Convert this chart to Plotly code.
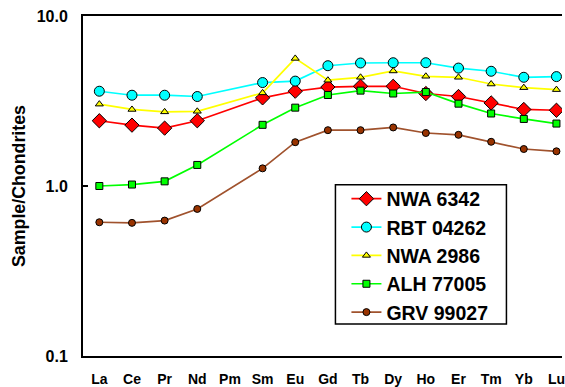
import plotly.graph_objects as go

elements = ["La", "Ce", "Pr", "Nd", "Pm", "Sm", "Eu", "Gd", "Tb", "Dy", "Ho", "Er", "Tm", "Yb", "Lu"]

nwa_6342 = [2.42, 2.28, 2.19, 2.42, None, 3.30, 3.61, 3.82, 3.86, 3.86, 3.50, 3.36, 3.08, 2.82, 2.79]
rbt_04262 = [3.61, 3.42, 3.42, 3.36, None, 4.06, 4.14, 5.10, 5.29, 5.31, 5.31, 4.94, 4.73, 4.36, 4.40]
nwa_2986 = [3.03, 2.82, 2.73, 2.75, None, 3.53, 5.63, 4.19, 4.36, 4.75, 4.42, 4.36, 3.98, 3.79, 3.69]
alh_77005 = [1.00, 1.02, 1.065, 1.33, None, 2.29, 2.89, 3.43, 3.64, 3.50, 3.57, 3.05, 2.67, 2.48, 2.33]
grv_99027 = [0.612, 0.607, 0.626, 0.733, None, 1.27, 1.81, 2.13, 2.13, 2.21, 2.05, 2.00, 1.82, 1.65, 1.60]

series = [
    ("NWA 6342", nwa_6342, "#FF0000", "#FF0000", "diamond", 11),
    ("RBT 04262", rbt_04262, "#00FFFF", "#00FFFF", "circle", 10),
    ("NWA 2986", nwa_2986, "#FFFF00", "#FFFF00", "triangle-up", 7),
    ("ALH 77005", alh_77005, "#00FF00", "#00FF00", "square", 7),
    ("GRV 99027", grv_99027, "#A0522D", "#993300", "circle", 7),
]

y_tickvals = [0.1, 1, 10]
y_ticktext = ["0.1", "1.0", "10.0"]

fig = go.Figure()
for name, vals, lcol, mcol, sym, size in series:
    fig.add_trace(go.Scatter(
        x=elements, y=vals, name=name, mode="lines+markers",
        connectgaps=True,
        line=dict(color=lcol, width=1.7),
        marker=dict(symbol=sym, size=size, color=mcol, line=dict(color="black", width=1)),
    ))

# legend frame
fig.add_shape(type="rect", xref="paper", yref="paper",
              x0=0.527, x1=0.884, y0=0.094, y1=0.504,
              line=dict(color="black", width=1.5), fillcolor="white", layer="above")

fig.update_layout(
    width=565, height=387,
    margin=dict(l=83, r=0, t=16, b=30),
    paper_bgcolor="white", plot_bgcolor="white",
    font=dict(family="Liberation Sans, Arial, sans-serif", color="black"),
    showlegend=True,
    legend=dict(
        x=0.527, y=0.519, xanchor="left", yanchor="top",
        bgcolor="rgba(0,0,0,0)", borderwidth=0,
        font=dict(size=19.5, family="Liberation Sans, Arial, sans-serif", weight="bold"),
        indentation=11,
    ),
)

fig.update_xaxes(
    type="category", categoryorder="array", categoryarray=elements,
    range=[-0.5, 14.17],
    showline=True, linecolor="black", linewidth=2, mirror=True,
    showgrid=False, ticks="", zeroline=False,
    tickfont=dict(size=14, weight="bold"),
    ticklabelstandoff=9,
)

fig.update_yaxes(
    type="log", range=[-1, 1],
    tickvals=y_tickvals, ticktext=y_ticktext,
    showline=True, linecolor="black", linewidth=2, mirror=False,
    showgrid=False, zeroline=False,
    ticks="inside", ticklen=5, tickwidth=1.5, tickcolor="black",
    tickfont=dict(size=16, weight="bold"),
    ticklabelstandoff=10,
    title=dict(text="Sample/Chondrites", font=dict(size=17.8, weight="bold"), standoff=6),
)

fig.write_html("out.html", config={"displayModeBar": False},
               post_script="document.body.style.margin='0px';document.body.style.overflow='hidden';")
